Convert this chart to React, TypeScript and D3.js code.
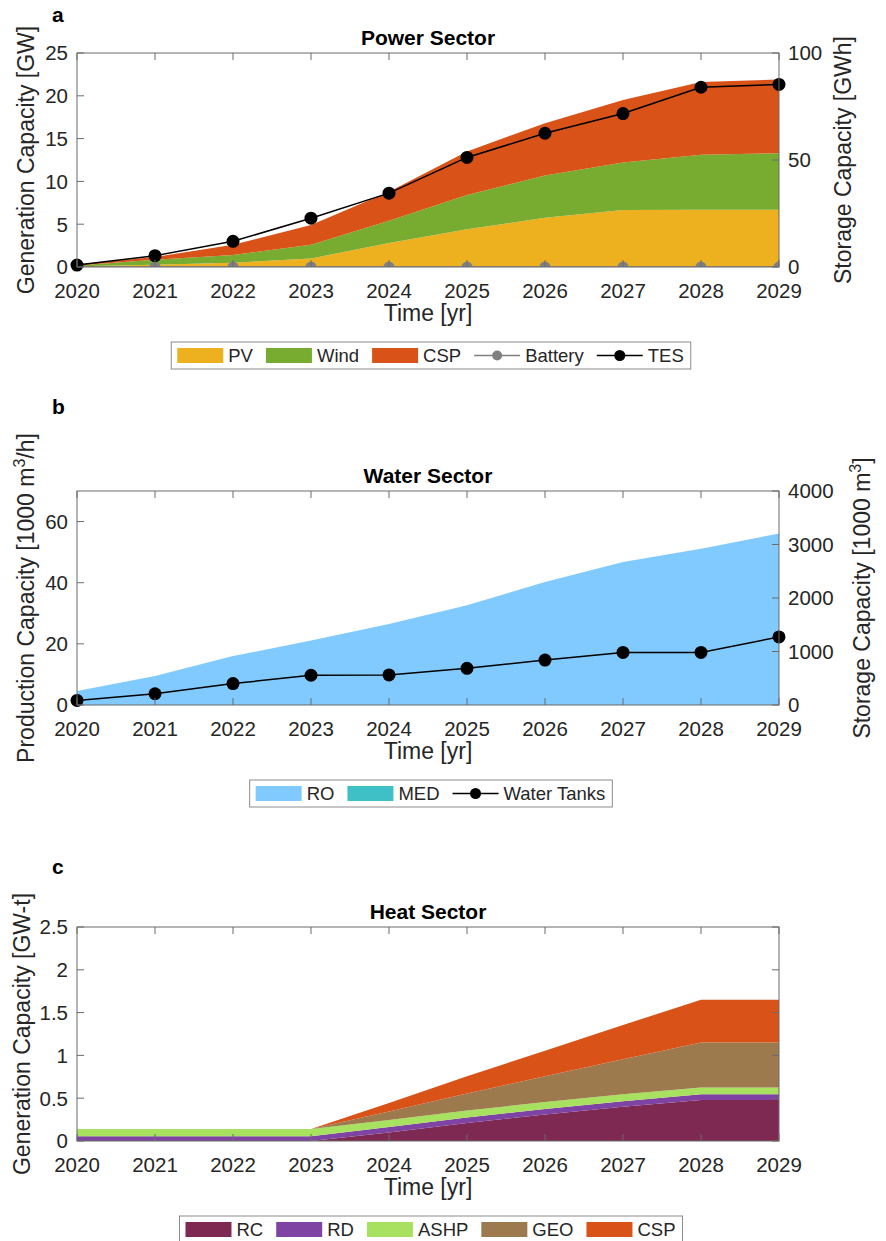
import React, { useEffect, useRef } from 'react';
import * as d3 from 'd3';

// years on the x axis
const years = [2020, 2021, 2022, 2023, 2024, 2025, 2026, 2027, 2028, 2029];

// a: power sector generation capacity [GW] (stacked)
const powerPV = [0.08, 0.27, 0.5, 1.0, 2.8, 4.4, 5.75, 6.65, 6.7, 6.7];
const powerWind = [0.1, 0.59, 0.9, 1.6, 2.6, 4.0, 4.95, 5.55, 6.4, 6.6];
const powerCSP = [0.1, 0.31, 1.2, 2.3, 3.4, 5.1, 6.1, 7.3, 8.5, 8.6];
// a: storage capacity [GWh]
const powerBattery = [0, 0, 0, 0, 0, 0, 0, 0, 0, 0];
const powerTES = [0.9, 5.3, 12.0, 22.8, 34.5, 51.2, 62.5, 71.7, 84.0, 85.3];

// b: water sector production capacity [1000 m3/h]
const waterRO = [4.6, 9.5, 16.0, 21.1, 26.5, 32.6, 40.2, 46.8, 51.1, 56.1];
const waterMED = [0, 0, 0, 0, 0, 0, 0, 0, 0, 0];
// b: storage capacity [1000 m3]
const waterTanks = [85, 210, 400, 556, 562, 686, 840, 982, 982, 1272];

// c: heat sector generation capacity [GW-t] (stacked)
const heatRC = [0, 0, 0, 0, 0.1, 0.21, 0.31, 0.4, 0.48, 0.48];
const heatRD = [0.055, 0.055, 0.055, 0.055, 0.065, 0.065, 0.065, 0.065, 0.065, 0.065];
const heatASHP = [0.085, 0.085, 0.085, 0.085, 0.08, 0.08, 0.08, 0.08, 0.08, 0.08];
const heatGEO = [0, 0, 0, 0, 0.1, 0.2, 0.3, 0.41, 0.525, 0.525];
const heatCSP = [0, 0, 0, 0, 0.1, 0.2, 0.3, 0.4, 0.5, 0.5];

// tick values
const powerLeftTicks = [0, 5, 10, 15, 20, 25];
const powerRightTicks = [0, 50, 100];
const waterLeftTicks = [0, 20, 40, 60];
const waterRightTicks = [0, 1000, 2000, 3000, 4000];
const heatTicks = [0, 0.5, 1, 1.5, 2, 2.5];

const FONT = '"Liberation Sans", Arial, Helvetica, sans-serif';
const TEXT = '#262626';
const AXIS = '#6b6b6b';
const X0 = 77;
const X1 = 779;
const PH = 214;
const TICK = 7;

function addLabel(g, parts, x, y) {
  const t = g.append('text')
    .attr('transform', `translate(${x},${y}) rotate(-90)`)
    .attr('text-anchor', 'middle')
    .attr('font-size', 23)
    .attr('fill', TEXT);
  parts.forEach(p => {
    if (p.sup) {
      t.append('tspan').attr('dy', -9).attr('font-size', 16).text(p.t);
    } else {
      t.append('tspan').attr('dy', p.after ? 9 : 0).text(p.t);
    }
  });
  return t;
}

function drawPanel(svg, cfg) {
  const g = svg.append('g').attr('transform', `translate(0,${cfg.top})`);
  const x = d3.scaleLinear().domain([2020, 2029]).range([X0, X1]);
  const yL = d3.scaleLinear().domain(cfg.leftDomain).range([PH, 0]);
  const yR = cfg.rightDomain ? d3.scaleLinear().domain(cfg.rightDomain).range([PH, 0]) : null;

  const clipId = 'clip-' + cfg.id;
  g.append('clipPath').attr('id', clipId)
    .append('rect').attr('x', X0).attr('y', 0).attr('width', X1 - X0).attr('height', PH);

  // stacked areas
  const rows = years.map((yr, i) => {
    const r = { year: yr };
    cfg.stacks.forEach(s => { r[s.key] = s.values[i]; });
    return r;
  });
  const stacked = d3.stack().keys(cfg.stacks.map(s => s.key))(rows);
  const area = d3.area()
    .x(d => x(d.data.year))
    .y0(d => yL(d[0]))
    .y1(d => yL(d[1]));
  g.append('g').attr('clip-path', `url(#${clipId})`)
    .selectAll('path').data(stacked).join('path')
    .attr('d', area)
    .attr('fill', (d, i) => cfg.stacks[i].color);

  // lines with markers (right axis)
  cfg.lines.forEach(l => {
    const lg = g.append('g');
    if (l.clip) lg.attr('clip-path', `url(#${clipId})`);
    const line = d3.line().x((d, i) => x(years[i])).y(d => yR(d));
    lg.append('path').attr('d', line(l.values))
      .attr('fill', 'none').attr('stroke', l.color).attr('stroke-width', 1.5);
    lg.selectAll('circle').data(l.values).join('circle')
      .attr('cx', (d, i) => x(years[i]))
      .attr('cy', d => yR(d))
      .attr('r', l.r)
      .attr('fill', l.color);
  });

  // box
  g.append('rect').attr('x', X0).attr('y', 0).attr('width', X1 - X0).attr('height', PH)
    .attr('fill', 'none').attr('stroke', AXIS).attr('stroke-width', 1);

  // x ticks (bottom and top, inside)
  years.forEach(yr => {
    const xx = x(yr);
    g.append('line').attr('x1', xx).attr('x2', xx).attr('y1', PH).attr('y2', PH - TICK).attr('stroke', AXIS);
    g.append('line').attr('x1', xx).attr('x2', xx).attr('y1', 0).attr('y2', TICK).attr('stroke', AXIS);
    g.append('text').attr('x', xx).attr('y', PH + 31).attr('text-anchor', 'middle')
      .attr('font-size', 20.5).attr('fill', TEXT).text(yr);
  });

  // left ticks
  cfg.leftTicks.forEach(v => {
    const yy = yL(v);
    g.append('line').attr('x1', X0).attr('x2', X0 + TICK).attr('y1', yy).attr('y2', yy).attr('stroke', AXIS);
    if (!yR) {
      g.append('line').attr('x1', X1).attr('x2', X1 - TICK).attr('y1', yy).attr('y2', yy).attr('stroke', AXIS);
    }
    g.append('text').attr('x', X0 - 9).attr('y', yy).attr('dy', '0.36em').attr('text-anchor', 'end')
      .attr('font-size', 20.5).attr('fill', TEXT).text(String(v));
  });

  // right ticks
  if (yR) {
    cfg.rightTicks.forEach(v => {
      const yy = yR(v);
      g.append('line').attr('x1', X1).attr('x2', X1 - TICK).attr('y1', yy).attr('y2', yy).attr('stroke', AXIS);
      g.append('text').attr('x', X1 + 9).attr('y', yy).attr('dy', '0.36em').attr('text-anchor', 'start')
        .attr('font-size', 20.5).attr('fill', TEXT).text(String(v));
    });
  }

  // titles and labels
  g.append('text').attr('x', (X0 + X1) / 2).attr('y', -8).attr('text-anchor', 'middle')
    .attr('font-size', 21).attr('font-weight', 'bold').attr('fill', '#000').text(cfg.title);
  svg.append('text').attr('x', 52).attr('y', cfg.letterY).attr('font-size', 21)
    .attr('font-weight', 'bold').attr('fill', '#000').text(cfg.letter);
  g.append('text').attr('x', (X0 + X1) / 2).attr('y', PH + 54).attr('text-anchor', 'middle')
    .attr('font-size', 23).attr('fill', TEXT).text('Time [yr]');
  addLabel(g, cfg.leftLabel, cfg.leftLabelX, PH / 2);
  if (cfg.rightLabel) addLabel(g, cfg.rightLabel, cfg.rightLabelX, PH / 2);

  // legend
  const lg = g.append('g');
  const LH = 27;
  let cursor = 6;
  cfg.legend.forEach(it => {
    if (it.type === 'area') {
      lg.append('rect').attr('x', cursor).attr('y', (LH - 15) / 2).attr('width', 46).attr('height', 15)
        .attr('fill', it.color);
    } else {
      lg.append('line').attr('x1', cursor).attr('x2', cursor + 46).attr('y1', LH / 2).attr('y2', LH / 2)
        .attr('stroke', it.color).attr('stroke-width', 1.5);
      lg.append('circle').attr('cx', cursor + 23).attr('cy', LH / 2).attr('r', it.r).attr('fill', it.color);
    }
    cursor += 46 + 5;
    const t = lg.append('text').attr('x', cursor).attr('y', LH / 2).attr('dy', '0.36em')
      .attr('font-size', 18.5).attr('fill', TEXT).text(it.name);
    cursor += t.node().getComputedTextLength() + 13;
  });
  const lw = cursor - 13 + 7;
  lg.insert('rect', ':first-child').attr('x', 0).attr('y', 0).attr('width', lw).attr('height', LH)
    .attr('fill', '#fff').attr('stroke', '#8c8c8c');
  lg.attr('transform', `translate(${431 - lw / 2},${PH + 75})`);
}

const App = () => {
  const ref = useRef(null);

  useEffect(() => {
    const svg = d3.select(ref.current);
    svg.selectAll('*').remove();

    const c = {
      pv: '#EDB120', wind: '#77AC30', csp: '#D95319', battery: '#808080', tes: '#000000',
      ro: '#80CAFF', med: '#3FBFC6',
      rc: '#7E2952', rd: '#7E43A3', ashp: '#A8E05F', geo: '#9C7A4E',
    };

    drawPanel(svg, {
      id: 'a', top: 53, title: 'Power Sector', letter: 'a', letterY: 22,
      leftDomain: [0, 25], leftTicks: powerLeftTicks,
      rightDomain: [0, 100], rightTicks: powerRightTicks,
      stacks: [
        { key: 'PV', values: powerPV, color: c.pv },
        { key: 'Wind', values: powerWind, color: c.wind },
        { key: 'CSP', values: powerCSP, color: c.csp },
      ],
      lines: [
        { values: powerBattery, color: c.battery, r: 5.5, clip: true },
        { values: powerTES, color: c.tes, r: 6.5 },
      ],
      leftLabel: [{ t: 'Generation Capacity [GW]' }], leftLabelX: 34,
      rightLabel: [{ t: 'Storage Capacity [GWh]' }], rightLabelX: 851,
      legend: [
        { type: 'area', name: 'PV', color: c.pv },
        { type: 'area', name: 'Wind', color: c.wind },
        { type: 'area', name: 'CSP', color: c.csp },
        { type: 'line', name: 'Battery', color: c.battery, r: 5 },
        { type: 'line', name: 'TES', color: c.tes, r: 5.5 },
      ],
    });

    drawPanel(svg, {
      id: 'b', top: 491, title: 'Water Sector', letter: 'b', letterY: 414,
      leftDomain: [0, 70], leftTicks: waterLeftTicks,
      rightDomain: [0, 4000], rightTicks: waterRightTicks,
      stacks: [
        { key: 'RO', values: waterRO, color: c.ro },
        { key: 'MED', values: waterMED, color: c.med },
      ],
      lines: [
        { values: waterTanks, color: '#000', r: 6.5 },
      ],
      leftLabel: [{ t: 'Production Capacity [1000 m' }, { t: '3', sup: true }, { t: '/h]', after: true }],
      leftLabelX: 34,
      rightLabel: [{ t: 'Storage Capacity [1000 m' }, { t: '3', sup: true }, { t: ']', after: true }],
      rightLabelX: 870,
      legend: [
        { type: 'area', name: 'RO', color: c.ro },
        { type: 'area', name: 'MED', color: c.med },
        { type: 'line', name: 'Water Tanks', color: '#000', r: 5.5 },
      ],
    });

    drawPanel(svg, {
      id: 'c', top: 927, title: 'Heat Sector', letter: 'c', letterY: 874,
      leftDomain: [0, 2.5], leftTicks: heatTicks,
      stacks: [
        { key: 'RC', values: heatRC, color: c.rc },
        { key: 'RD', values: heatRD, color: c.rd },
        { key: 'ASHP', values: heatASHP, color: c.ashp },
        { key: 'GEO', values: heatGEO, color: c.geo },
        { key: 'CSP', values: heatCSP, color: c.csp },
      ],
      lines: [],
      leftLabel: [{ t: 'Generation Capacity [GW-t]' }], leftLabelX: 30,
      legend: [
        { type: 'area', name: 'RC', color: c.rc },
        { type: 'area', name: 'RD', color: c.rd },
        { type: 'area', name: 'ASHP', color: c.ashp },
        { type: 'area', name: 'GEO', color: c.geo },
        { type: 'area', name: 'CSP', color: c.csp },
      ],
    });
  }, []);

  return (
    <div style={{ position: 'absolute', left: 0, top: 0 }}>
      <svg ref={ref} width={886} height={1241} style={{ fontFamily: FONT, display: 'block', background: '#fff' }} />
    </div>
  );
};

export default App;
